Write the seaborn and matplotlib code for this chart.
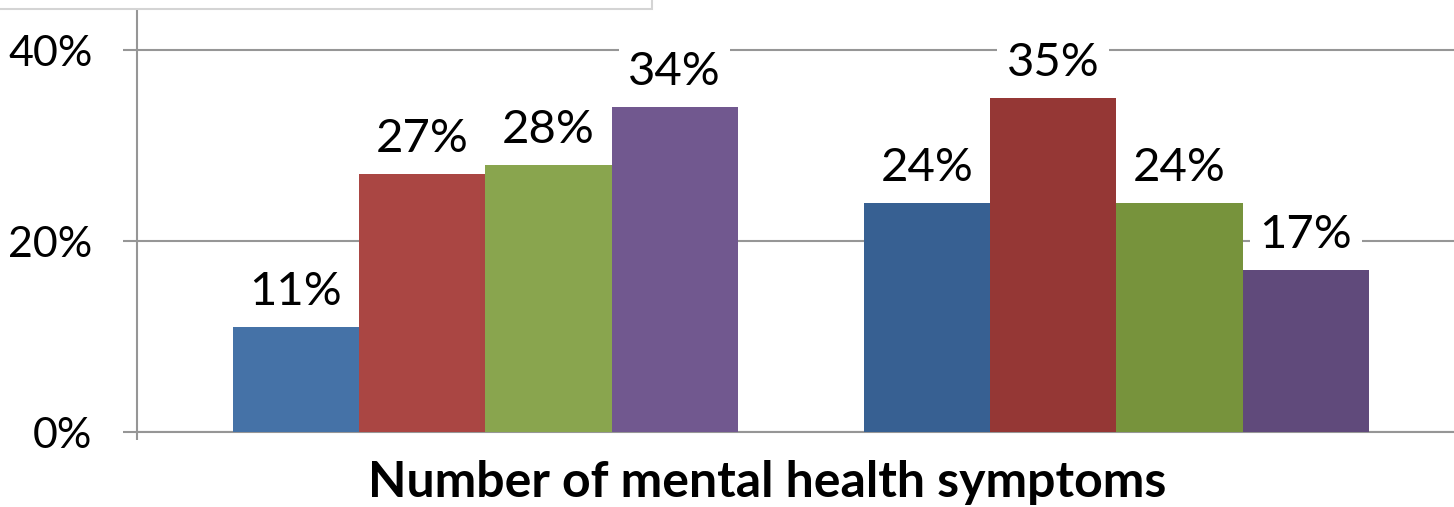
import matplotlib
matplotlib.use("Agg")
import matplotlib.pyplot as plt
from matplotlib.patches import Rectangle
import seaborn as sns
import pandas as pd

# Survey results: share of respondents (%) by number of mental health symptoms
groups = ["Group 1", "Group 2"]
series = ["None", "One", "Two", "Three or more"]
group1_values = [11, 27, 28, 34]
group2_values = [24, 35, 24, 17]

yticks = [0, 20, 40]
ytick_labels = ["0%", "20%", "40%"]
xlabel = "Number of mental health symptoms"

# Lighter shades for the first group, darker shades for the second
light_colors = ["#4572A7", "#AA4643", "#89A54E", "#71588F"]
dark_colors = ["#376092", "#953735", "#77933C", "#604A7B"]

df = pd.DataFrame({
    "group": [g for g in groups for _ in series],
    "series": series * len(groups),
    "value": group1_values + group2_values,
})

plt.rcParams["font.family"] = ["Lato", "DejaVu Sans"]

W, H = 1454, 507
fig = plt.figure(figsize=(W / 100, H / 100), dpi=100)
ax = fig.add_axes([137 / W, 1 - 432 / H, 1 - 137 / W, (432 - 10) / H])

sns.barplot(data=df, x="group", y="value", hue="series", order=groups,
            hue_order=series, palette=light_colors, saturation=1, width=0.8,
            linewidth=0, legend=False, ax=ax, zorder=3)

# Second group uses the darker shade of each series colour
for cont, dc in zip(ax.containers, dark_colors):
    cont.patches[1].set_facecolor(dc)

for cont in ax.containers:
    ax.bar_label(cont, labels=[f"{v:.0f}%" for v in cont.datavalues],
                 padding=10, fontsize=34, color="black", zorder=5,
                 bbox=dict(boxstyle="square,pad=0.2", fc="white", ec="none"))

grid_color = "#969696"
ax.set_ylim(0, 40 + 40 / 191 * 20)
ax.set_xlim(-0.552, 1.535)
ax.set_yticks(yticks)
ax.set_yticklabels(ytick_labels, fontsize=31)
ax.yaxis.grid(True, color=grid_color, linewidth=1.5, zorder=0)
ax.set_axisbelow(True)
ax.tick_params(axis="y", direction="out", length=10, width=1.5,
               color=grid_color, pad=22)
ax.set_xticks([])
ax.set_xticks([ax.get_xlim()[0]], minor=True)
ax.tick_params(axis="x", which="minor", direction="out", length=6,
               width=1.5, color=grid_color, labelbottom=False)
ax.set_xlabel("")
ax.set_ylabel("")
for side in ["top", "right"]:
    ax.spines[side].set_visible(False)
for side in ["left", "bottom"]:
    ax.spines[side].set_color(grid_color)
    ax.spines[side].set_linewidth(1.5)

fig.text(767 / W, 1 - 497 / H, xlabel, ha="center", va="baseline",
         fontsize=36, fontweight="bold")

# Frame of the legend panel along the top edge
fig.patches.append(Rectangle((-0.01, 1 - 9 / H), (652 + 15) / W, 0.1,
                             transform=fig.transFigure, fc="white",
                             ec="#d4d4d4", lw=1.5, zorder=10))

fig.savefig("out.png", dpi=100)
